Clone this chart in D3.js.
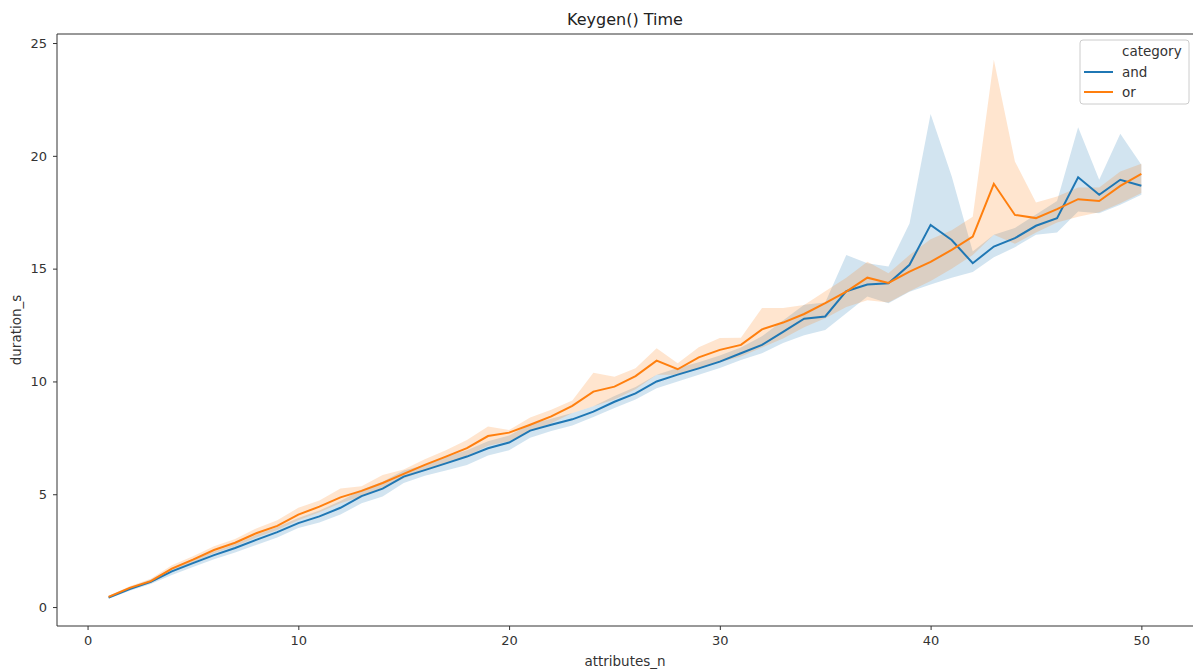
<!DOCTYPE html>
<html>
<head>
<meta charset="utf-8">
<script src="https://cdn.jsdelivr.net/npm/d3@7"></script>
<style>
  body { margin: 0; background: #fff; }
  svg { font-family: "DejaVu Sans", sans-serif; }
</style>
</head>
<body>
<div id="chart"></div>
<script>
// attributes_n, 1..50
const attributes = d3.range(1, 51);

// mean duration per category
const andMean = [0.42, 0.8, 1.12, 1.58, 1.95, 2.3, 2.62, 2.98, 3.32, 3.72,
  4.02, 4.4, 4.92, 5.25, 5.78, 6.07, 6.37, 6.67, 7.04, 7.29,
  7.82, 8.08, 8.32, 8.66, 9.1, 9.47, 10.0, 10.3, 10.58, 10.88,
  11.25, 11.62, 12.2, 12.78, 12.88, 14.0, 14.3, 14.35, 15.17, 16.94,
  16.27, 15.24, 15.98, 16.35, 16.9, 17.24, 19.05, 18.27, 18.94, 18.67];
const orMean = [0.45, 0.85, 1.15, 1.7, 2.1, 2.53, 2.85, 3.27, 3.6, 4.1,
  4.45, 4.86, 5.15, 5.5, 5.9, 6.3, 6.67, 7.04, 7.58, 7.73,
  8.08, 8.45, 8.92, 9.55, 9.77, 10.24, 10.92, 10.54, 11.07, 11.4,
  11.62, 12.31, 12.61, 12.99, 13.47, 13.98, 14.6, 14.37, 14.87, 15.3,
  15.83, 16.42, 18.76, 17.38, 17.24, 17.64, 18.08, 18.0, 18.67, 19.2];

// confidence band
const andLow = [0.37, 0.72, 1.02, 1.42, 1.78, 2.12, 2.42, 2.75, 3.08, 3.5,
  3.75, 4.1, 4.6, 4.9, 5.5, 5.82, 6.05, 6.3, 6.72, 6.95,
  7.5, 7.8, 8.05, 8.42, 8.82, 9.2, 9.7, 10.0, 10.3, 10.6,
  10.95, 11.25, 11.7, 12.05, 12.28, 13.02, 13.76, 13.47, 13.98, 14.3,
  14.6, 14.85, 15.5, 15.95, 16.5, 16.6, 17.53, 17.46, 17.83, 18.27];
const andHigh = [0.5, 0.88, 1.22, 1.72, 2.1, 2.46, 2.8, 3.2, 3.55, 3.95,
  4.28, 4.7, 5.2, 5.55, 6.05, 6.3, 6.65, 6.95, 7.35, 7.6,
  8.1, 8.35, 8.6, 8.9, 9.35, 9.75, 10.3, 10.6, 10.85, 11.15,
  11.5, 12.0, 12.7, 13.4, 13.5, 15.6, 15.24, 15.09, 17.0, 21.85,
  19.1, 15.76, 16.5, 16.8, 17.4, 18.0, 21.27, 18.94, 20.98, 19.6];
const orLow = [0.4, 0.78, 1.07, 1.58, 1.98, 2.38, 2.7, 3.08, 3.42, 3.85,
  4.2, 4.6, 4.9, 5.25, 5.7, 6.05, 6.35, 6.7, 7.15, 7.35,
  7.8, 8.15, 8.6, 8.9, 9.2, 9.65, 10.3, 10.3, 10.6, 10.85,
  11.1, 11.5, 11.9, 12.4, 12.8, 13.3, 13.6, 13.5, 14.0, 14.45,
  15.0, 15.6, 16.5, 16.1, 16.6, 17.05, 17.3, 17.5, 17.9, 18.35];
const orHigh = [0.5, 0.92, 1.25, 1.85, 2.25, 2.7, 3.02, 3.48, 3.85, 4.4,
  4.72, 5.25, 5.35, 5.85, 6.1, 6.55, 6.95, 7.4, 8.0, 7.85,
  8.4, 8.75, 9.15, 10.39, 10.21, 10.58, 11.47, 10.81, 11.52, 11.92,
  11.94, 13.25, 13.25, 13.39, 14.0, 14.6, 15.3, 14.8, 15.6, 16.3,
  16.7, 17.3, 24.26, 19.75, 17.93, 18.2, 18.6, 18.6, 19.3, 19.65];

const xTicks = [0, 10, 20, 30, 40, 50];
const yTicks = [0, 5, 10, 15, 20, 25];

const series = [
  { name: "and", color: "#1f77b4", mean: andMean, low: andLow, high: andHigh },
  { name: "or", color: "#ff7f0e", mean: orMean, low: orLow, high: orHigh }
];

const W = 1194, H = 670;
const margin = { top: 34, right: 1, bottom: 44, left: 57 };
const width = W - margin.left - margin.right,
      height = H - margin.top - margin.bottom;

const svg = d3.select("#chart").append("svg")
  .attr("width", W).attr("height", H);
const g = svg.append("g")
  .attr("transform", `translate(${margin.left},${margin.top})`);

const x = d3.scaleLinear().domain([-1.45, 52.45]).range([0, width]);
const y = d3.scaleLinear().domain([-0.84, 25.4]).range([height, 0]);

// bandas
const area = d3.area()
  .x((d, i) => x(attributes[i]))
  .y0(d => y(d[0]))
  .y1(d => y(d[1]));
const line = d3.line()
  .x((d, i) => x(attributes[i]))
  .y(d => y(d));

series.forEach(s => {
  g.append("path")
    .datum(s.low.map((v, i) => [v, s.high[i]]))
    .attr("d", area)
    .attr("fill", s.color)
    .attr("fill-opacity", 0.2);
});
series.forEach(s => {
  g.append("path")
    .datum(s.mean)
    .attr("d", line)
    .attr("fill", "none")
    .attr("stroke", s.color)
    .attr("stroke-width", 2);
});

// eixos
const xAxis = g.append("g")
  .attr("transform", `translate(0,${height})`)
  .call(d3.axisBottom(x).tickValues(xTicks).tickSize(4).tickPadding(6).tickSizeOuter(0));
const yAxis = g.append("g")
  .call(d3.axisLeft(y).tickValues(yTicks).tickSize(4).tickPadding(6).tickSizeOuter(0));
[xAxis, yAxis].forEach(a => {
  a.select(".domain").remove();
  a.selectAll("line").attr("stroke", "#333");
  a.selectAll("text").attr("fill", "#333").style("font-size", "13px")
    .style("font-family", "DejaVu Sans, sans-serif");
});

// spines
g.append("line").attr("x1", 0).attr("x2", 0).attr("y1", 0).attr("y2", height)
  .attr("stroke", "#333").attr("stroke-width", 1);
g.append("line").attr("x1", 0).attr("x2", width).attr("y1", height).attr("y2", height)
  .attr("stroke", "#333").attr("stroke-width", 1);
g.append("line").attr("x1", 0).attr("x2", width).attr("y1", 0).attr("y2", 0)
  .attr("stroke", "#333").attr("stroke-width", 1);

// titulo e rotulos
svg.append("text")
  .attr("x", margin.left + width / 2).attr("y", 25)
  .attr("text-anchor", "middle").style("font-size", "16px").attr("fill", "#222")
  .text("Keygen() Time");
svg.append("text")
  .attr("x", margin.left + width / 2).attr("y", 666)
  .attr("text-anchor", "middle").style("font-size", "13.5px").attr("fill", "#333")
  .text("attributes_n");
svg.append("text")
  .attr("transform", "rotate(-90)")
  .attr("x", -(margin.top + height / 2)).attr("y", 21)
  .attr("text-anchor", "middle").style("font-size", "13.5px").attr("fill", "#333")
  .text("duration_s");

// legenda
const leg = svg.append("g").attr("transform", "translate(1080,40)");
leg.append("rect").attr("width", 109).attr("height", 64).attr("rx", 3)
  .attr("fill", "#fff").attr("fill-opacity", 0.8)
  .attr("stroke", "#ccc");
leg.append("text").attr("x", 42).attr("y", 16).style("font-size", "13.5px").attr("fill", "#333")
  .text("category");
series.forEach((s, i) => {
  const yy = 32 + i * 20;
  leg.append("line").attr("x1", 4).attr("x2", 33).attr("y1", yy).attr("y2", yy)
    .attr("stroke", s.color).attr("stroke-width", 2);
  leg.append("text").attr("x", 42).attr("y", yy + 5).style("font-size", "13.5px").attr("fill", "#333")
    .text(s.name);
});
</script>
</body>
</html>
